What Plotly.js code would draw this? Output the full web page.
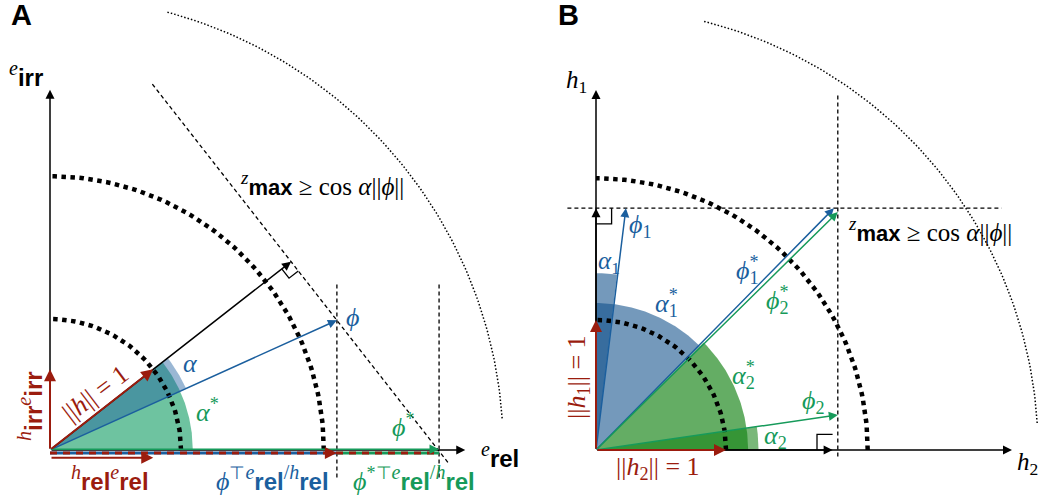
<!DOCTYPE html>
<html><head><meta charset="utf-8">
<script src="https://cdn.plot.ly/plotly-3.0.1.min.js"></script>
<style>html,body{margin:0;padding:0;background:#fff}</style>
</head><body><div id="chart" style="width:1040px;height:499px"></div>
<script>
// ---------------- Panel A values (unit: ||h|| = 1) ----------------
const A_hAngleDeg = 38;
const A_hNorm = 1;
const A_phi = [2.19, 0.99];
const A_phiStar = [2.97, 0];
const A_circleRadii = [1, 2.09];
const A_outerRadius = 3.46;
const A_outerArcDeg = [4, 75];
const A_axisLen = [3.17, 2.75];      // e_rel, e_irr
const A_alphaRadius = 1.14;
const A_alphaStarRadius = 1.09;
const A_projLineT = [-1.72, 1.95];
const A_vLineY = [-0.21, 1.27];

// ---------------- Panel B values ----------------
const B_h1 = [0, 1];
const B_h2 = [1, 0];
const B_phi1 = [0.23, 1.86];
const B_phi2 = [1.86, 0.27];
const B_phi1Star = [1.83, 1.86];
const B_phi2Star = [1.86, 1.83];
const B_zmax = 1.86;
const B_axisMarks = [1.82, 1.86];    // arrowheads on h2, h1 axes
const B_circleRadii = [1, 2.09];
const B_outerRadius = 3.4;
const B_outerArcDeg = [3.5, 76];
const B_axisLen = [3.2, 2.77];       // h2, h1
const B_alpha1Radius = 1.36;
const B_alpha1StarRadius = 1.13;
const B_alpha2StarRadius = 1.17;
const B_alpha2Radius = 1.25;
const B_zLineX = [-0.22, 3.12];
const B_zLineY = [-0.05, 2.75];

// ---------------- styles ----------------
const RED = '#9b1c0e', BLUE = '#1b5f9e', GREEN = '#169a5a', BLACK = '#000';
const SERIF = 'Liberation Serif, Times New Roman, serif';
const FS = 26;
const deg = Math.PI / 180;
function arc(r, a0, a1) {
  const x = [], y = [];
  for (let i = 0; i <= 90; i++) { const a = (a0 + (a1 - a0) * i / 90) * deg; x.push(r * Math.cos(a)); y.push(r * Math.sin(a)); }
  return { x, y };
}
function wedge(r, a0, a1) { const p = arc(r, a0, a1); return { x: [0, ...p.x, 0], y: [0, ...p.y, 0] }; }
function ang(v) { return Math.atan2(v[1], v[0]) / deg; }

const traces = [];
function addLine(ax, pts, color, width, dash) {
  traces.push({ type: 'scatter', mode: 'lines', x: pts.x, y: pts.y, xaxis: ax[0], yaxis: ax[1],
    line: { color, width, dash: dash || 'solid' }, hoverinfo: 'skip', showlegend: false });
}
function addFill(ax, pts, color) {
  traces.push({ type: 'scatter', mode: 'lines', x: pts.x, y: pts.y, xaxis: ax[0], yaxis: ax[1], fill: 'toself',
    fillcolor: color, line: { width: 0, color: 'rgba(0,0,0,0)' }, hoverinfo: 'skip', showlegend: false });
}
const ann = [];
function arrow(ax, tail, head, color, w, s) {
  const xr = ax[0], yr = ax[1];
  ann.push({ xref: xr, yref: yr, axref: xr, ayref: yr, x: head[0], y: head[1], ax: tail[0], ay: tail[1],
    text: '', showarrow: true, arrowhead: 2, arrowsize: s || 1.2, arrowwidth: w || 1.5, arrowcolor: color, standoff: 0, startstandoff: 0 });
}
function lab(px, py, text, color, size, angle) {
  ann.push({ xref: 'paper', yref: 'paper', x: px / 1040, y: 1 - py / 499, xanchor: 'center', yanchor: 'middle',
    text, showarrow: false, textangle: angle || 0, font: { family: SERIF, size: size || FS, color } });
}
const SB = (s, fs) => '<b><span style="font-family:Liberation Sans;font-size:' + (fs || 23) + 'px">' + s + '</span></b>';
const SUPI = (s, fs) => '<sup><span style="font-size:' + (fs || 19) + 'px"><i>' + s + '</i></span></sup>';
const PHI = '<i>ϕ</i>', ALPHA = '<i>α</i>';
const NORM = inner => '||' + inner + '||';
const STARSUB = n => '<sup><span style="letter-spacing:-9px">*</span></sup><sub>' + n + '</sub>';

// ================= Panel A =================
const AX = ['x', 'y'];
const hA = [A_hNorm * Math.cos(A_hAngleDeg * deg), A_hNorm * Math.sin(A_hAngleDeg * deg)];
const projLen = A_phi[0] * hA[0] + A_phi[1] * hA[1];
const projTip = [projLen * hA[0], projLen * hA[1]];
const perp = [hA[1], -hA[0]];

addFill(AX, wedge(A_alphaStarRadius, 0, A_hAngleDeg), '#6ec3a0');
addFill(AX, wedge(A_alphaRadius, ang(A_phi), A_hAngleDeg), 'rgba(30,95,160,0.45)');
A_circleRadii.forEach(r => addLine(AX, arc(r, 0, 90), BLACK, 4.5, '4.5px,4.5px'));
addLine(AX, arc(A_outerRadius, A_outerArcDeg[0], A_outerArcDeg[1]), BLACK, 1.5, '1.5px,2px');
addLine(AX, { x: A_projLineT.map(t => projTip[0] + t * perp[0]), y: A_projLineT.map(t => projTip[1] + t * perp[1]) }, BLACK, 1.3, '4px,3px');
addLine(AX, { x: [A_phi[0], A_phi[0]], y: A_vLineY }, BLACK, 1.3, '4px,3px');
addLine(AX, { x: [A_phiStar[0], A_phiStar[0]], y: A_vLineY }, BLACK, 1.3, '4px,3px');
const s = 0.09;
addLine(AX, { x: [projTip[0] - s * hA[0], projTip[0] - s * hA[0] + s * perp[0], projTip[0] + s * perp[0]],
              y: [projTip[1] - s * hA[1], projTip[1] - s * hA[1] + s * perp[1], projTip[1] + s * perp[1]] }, BLACK, 1.3);
const yb = -0.022;
addLine(AX, { x: [0, A_phi[0]], y: [yb, yb] }, BLUE, 3);
addLine(AX, { x: [A_phi[0], A_phiStar[0]], y: [yb, yb] }, GREEN, 3);
addLine(AX, { x: [0, A_phiStar[0]], y: [yb, yb] }, RED, 3, '7px,6px');

arrow(AX, [0, 0], [A_axisLen[0], 0], BLACK, 1.5);
arrow(AX, [0, 0], [0, A_axisLen[1]], BLACK, 1.5);
arrow(AX, [0, 0], projTip, BLACK, 1.5);
arrow(AX, [0, 0], A_phi, BLUE, 1.5);
arrow(AX, [0, 0.006], [A_phiStar[0], 0.006], GREEN, 1.6);
arrow(AX, [A_phi[0] - 0.1, yb], [A_phi[0], yb], RED, 2);
arrow(AX, [0, 0], hA, RED, 2);
arrow(AX, [0, 0], [0, hA[1]], RED, 2);
arrow(AX, [0, -0.06], [hA[0], -0.06], RED, 2);

// ================= Panel B =================
const BX = ['x2', 'y2'];
addFill(BX, wedge(B_alpha1Radius, ang(B_phi1), 90), 'rgba(10,75,135,0.57)');
addFill(BX, wedge(B_alpha1StarRadius, 45, 90), 'rgba(10,75,135,0.57)');
addFill(BX, wedge(B_alpha2Radius, 0, ang(B_phi2)), 'rgba(20,130,20,0.57)');
addFill(BX, wedge(B_alpha2StarRadius, 0, 45), 'rgba(20,130,20,0.66)');
B_circleRadii.forEach(r => addLine(BX, arc(r, 0, 90), BLACK, 4.5, '4.5px,4.5px'));
addLine(BX, arc(B_outerRadius, B_outerArcDeg[0], B_outerArcDeg[1]), BLACK, 1.5, '1.5px,2px');
addLine(BX, { x: B_zLineX, y: [B_zmax, B_zmax] }, BLACK, 1.3, '4px,3px');
addLine(BX, { x: [B_zmax, B_zmax], y: B_zLineY }, BLACK, 1.3, '4px,3px');
const q = 0.12;
addLine(BX, { x: [0, q, q], y: [B_axisMarks[1] - q, B_axisMarks[1] - q, B_axisMarks[1]] }, BLACK, 1.3);
addLine(BX, { x: [B_axisMarks[0] - q, B_axisMarks[0] - q, B_axisMarks[0]], y: [0, q, q] }, BLACK, 1.3);

arrow(BX, [0, 0], [B_axisLen[0], 0], BLACK, 1.5);
arrow(BX, [0, 0], [0, B_axisLen[1]], BLACK, 1.5);
arrow(BX, [0, 0], [B_axisMarks[0], 0], BLACK, 1.5);
arrow(BX, [0, 0], [0, B_axisMarks[1]], BLACK, 1.5);
arrow(BX, [0, 0], B_phi1, BLUE, 1.5);
arrow(BX, [0, 0], B_phi2, GREEN, 1.5);
arrow(BX, [0, 0], B_phi1Star, BLUE, 1.5);
arrow(BX, [0, 0], B_phi2Star, GREEN, 1.5);
arrow(BX, [0, 0], B_h1, RED, 2);
arrow(BX, [0, 0], B_h2, RED, 2);

// ================= Labels =================
lab(21, 15, SB('A', 29), BLACK, 29);
lab(568, 15, SB('B', 29), BLACK, 29);
const ZMAX = SUPI('z', 19) + SB('max', 22) + ' ≥ cos ' + ALPHA + NORM(PHI);
const REL = SB('rel', 24), IRR = SB('irr', 24);
const SLASHH = '<sup><span style="font-size:20px">/<i>h</i></span></sup>';
lab(26, 74, SUPI('e', 20) + IRR, BLACK);
lab(322, 183, ZMAX, BLACK, 25);
lab(190, 363, ALPHA, BLUE);
lab(207, 410, ALPHA + '<sup>*</sup>', GREEN);
lab(95, 393, NORM('<i>h</i>') + ' = 1', RED, FS, -37);
lab(30, 406, SUPI('h', 20) + IRR + SUPI('e', 20) + IRR, RED, FS, -90);
lab(110, 478, SUPI('h', 20) + REL + SUPI('e', 20) + REL, RED);
lab(272, 478, PHI + '<sup>⊤</sup>' + SUPI('e', 20) + REL + SLASHH + REL, BLUE);
lab(414, 478, PHI + '<sup>*⊤</sup>' + SUPI('e', 20) + REL + SLASHH + REL, GREEN);
lab(500, 455, SUPI('e', 20) + REL, BLACK);
lab(352, 317, PHI, BLUE);
lab(403, 425, PHI + '<sup>*</sup>', GREEN);

lab(576, 81, '<i>h</i><sub>1</sub>', BLACK, 25);
lab(1027, 463, '<i>h</i><sub>2</sub>', BLACK, 25);
lab(930, 229, ZMAX, BLACK, 25);
lab(640, 226, PHI + '<sub>1</sub>', BLUE);
lab(609, 262, ALPHA + '<sub>1</sub>', BLUE, 25);
lab(666, 303, ALPHA + STARSUB(1), BLUE);
lab(747, 270, PHI + STARSUB(1), BLUE);
lab(777, 300, PHI + STARSUB(2), GREEN);
lab(743, 375, ALPHA + STARSUB(2), GREEN);
lab(813, 402, PHI + '<sub>2</sub>', GREEN);
lab(775, 437, ALPHA + '<sub>2</sub>', GREEN);
lab(578, 377, NORM('<i>h</i><sub>1</sub>') + ' = 1', RED, FS, -90);
lab(658, 468, NORM('<i>h</i><sub>2</sub>') + ' = 1', RED);

const hide = { visible: false, showgrid: false, zeroline: false, fixedrange: true };
const layout = {
  width: 1040, height: 499, margin: { l: 0, r: 0, t: 0, b: 0, pad: 0 },
  paper_bgcolor: '#fff', plot_bgcolor: '#fff', showlegend: false,
  font: { family: SERIF },
  xaxis: Object.assign({ domain: [0, 0.5], range: [-50 / 131, 470 / 131] }, hide),
  yaxis: Object.assign({ domain: [0, 1], range: [-49 / 131, 450 / 131] }, hide),
  xaxis2: Object.assign({ domain: [0.5, 1], range: [-76 / 130, 444 / 130], anchor: 'y2' }, hide),
  yaxis2: Object.assign({ domain: [0, 1], range: [-49 / 130, 450 / 130], anchor: 'x2' }, hide),
  annotations: ann
};
Plotly.newPlot('chart', traces, layout, { displayModeBar: false, staticPlot: true });
</script></body></html>
